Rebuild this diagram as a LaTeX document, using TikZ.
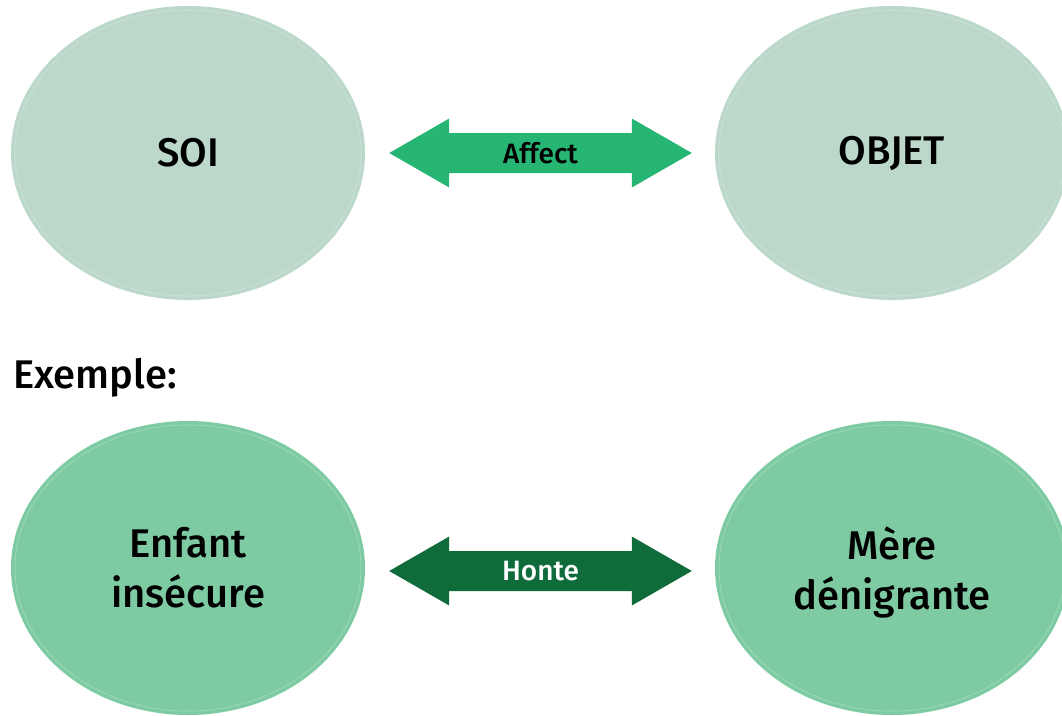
\documentclass[tikz,border=0pt]{standalone}
\usepackage{fontspec}
\setmainfont{Fira Sans Medium}
\usetikzlibrary{calc,shapes.geometric}
\definecolor{palegreen}{HTML}{BBD8CA}
\definecolor{midgreen}{HTML}{7ECBA3}
\definecolor{brightgreen}{HTML}{27B574}
\definecolor{darkgreen}{HTML}{0F6B3A}
\begin{document}
\begin{tikzpicture}[x=1pt,y=-1pt,
  bub/.style={ellipse, minimum width=354pt, minimum height=294pt, inner sep=0pt,
    align=center, font=\fontsize{40}{50}\selectfont},
  rim/.style={draw=white, draw opacity=0.3, line width=0.6pt},
  lbl/.style={inner sep=0pt, font=\fontsize{28}{34}\selectfont}]
\useasboundingbox (0,0) rectangle (1062,715);
\clip (0,0) rectangle (1062,715);
% top row
\node[bub, fill=palegreen] (soi) at (188,153) {SOI};
\node[bub, fill=palegreen] (objet) at (892,153) {OBJET};
\draw[rim] (soi.center) ellipse [x radius=173pt, y radius=143pt];
\draw[rim] (objet.center) ellipse [x radius=173pt, y radius=143pt];
\coordinate (a1) at ($(soi.east)+(24,0)$);
\coordinate (a2) at ($(objet.west)+(-23,0)$);
\fill[brightgreen] (a1) -- ($(a1)+(60,-34.5)$) -- ($(a1)+(60,-20)$) -- ($(a2)+(-60,-20)$)
  -- ($(a2)+(-60,-34.5)$) -- (a2) -- ($(a2)+(-60,34.5)$) -- ($(a2)+(-60,20)$)
  -- ($(a1)+(60,20)$) -- ($(a1)+(60,34.5)$) -- cycle;
\node[lbl] (affect) at ($(a1)!0.5!(a2)$) {Affect};
% example label
\node[anchor=base west, inner sep=0pt, font=\fontsize{40}{50}\selectfont] (ex) at (13,388) {Exemple:};
% bottom row
\node[bub, fill=midgreen] (enfant) at (188,568) {Enfant\\insécure};
\node[bub, fill=midgreen, text depth=0pt] (mere) at (892,568) {Mère\\dénigrante};
\draw[rim] (enfant.center) ellipse [x radius=173pt, y radius=143pt];
\draw[rim] (mere.center) ellipse [x radius=173pt, y radius=143pt];
\coordinate (b1) at ($(enfant.east)+(24,3)$);
\coordinate (b2) at ($(mere.west)+(-23,3)$);
\fill[darkgreen] (b1) -- ($(b1)+(60,-34.5)$) -- ($(b1)+(60,-20)$) -- ($(b2)+(-60,-20)$)
  -- ($(b2)+(-60,-34.5)$) -- (b2) -- ($(b2)+(-60,34.5)$) -- ($(b2)+(-60,20)$)
  -- ($(b1)+(60,20)$) -- ($(b1)+(60,34.5)$) -- cycle;
\node[lbl, text=white] (honte) at ($(b1)!0.5!(b2)$) {Honte};
\end{tikzpicture}
\end{document}
